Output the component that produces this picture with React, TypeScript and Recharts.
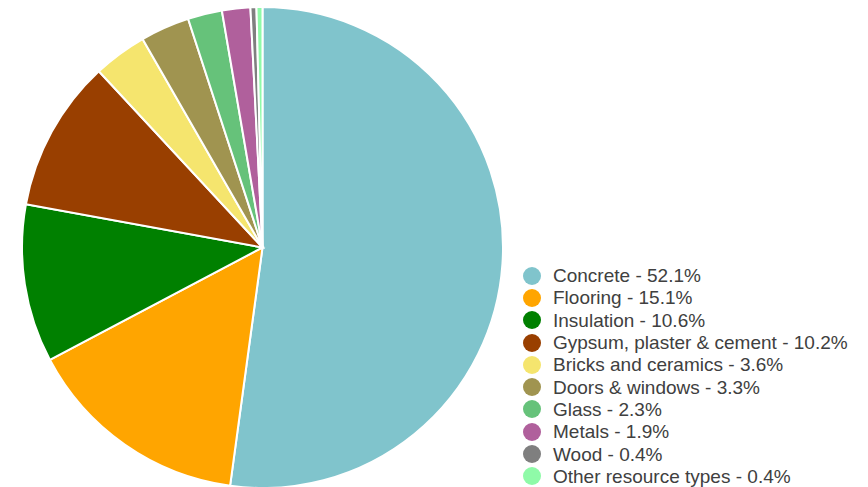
import { PieChart, Pie, Cell, Legend } from "recharts";

const categories = [
  "Concrete",
  "Flooring",
  "Insulation",
  "Gypsum, plaster & cement",
  "Bricks and ceramics",
  "Doors & windows",
  "Glass",
  "Metals",
  "Wood",
  "Other resource types",
];
const shares = [52.1, 15.1, 10.6, 10.2, 3.6, 3.3, 2.3, 1.9, 0.4, 0.4];
const colors = [
  "#80c4cc",
  "#ffa500",
  "#008000",
  "#993f00",
  "#f5e56e",
  "#a09450",
  "#66c27a",
  "#b0609c",
  "#7f7f7f",
  "#8ffaa8",
];

const data = categories.map((name, i) => ({ name, value: shares[i] }));

function LegendList() {
  return (
    <div style={{ fontFamily: "Arial, 'Liberation Sans', sans-serif", fontSize: 19, color: "#404040" }}>
      {data.map((d, i) => (
        <div key={d.name} style={{ display: "flex", alignItems: "center", height: 22.3 }}>
          <span
            style={{
              width: 18,
              height: 18,
              borderRadius: "50%",
              backgroundColor: colors[i],
              display: "inline-block",
              marginRight: 12,
              flexShrink: 0,
            }}
          />
          <span style={{ whiteSpace: "nowrap", lineHeight: "21px" }}>
            {d.name} - {d.value.toFixed(1)}%
          </span>
        </div>
      ))}
    </div>
  );
}

export default function App() {
  return (
    <div style={{ position: "absolute", left: 0, top: 0, width: 868, height: 487, background: "#fff" }}>
      <PieChart width={868} height={487} margin={{ top: 0, right: 0, bottom: 0, left: 0 }}>
        <Pie
          data={data}
          dataKey="value"
          nameKey="name"
          cx={262.5}
          cy={247.5}
          outerRadius={240.5}
          startAngle={90}
          endAngle={-270}
          stroke="#fff"
          strokeWidth={2}
          isAnimationActive={false}
        >
          {data.map((d, i) => (
            <Cell key={d.name} fill={colors[i]} />
          ))}
        </Pie>
        <Legend
          content={() => <LegendList />}
          wrapperStyle={{ position: "absolute", left: 523, top: 264.5, width: 345 }}
        />
      </PieChart>
    </div>
  );
}
